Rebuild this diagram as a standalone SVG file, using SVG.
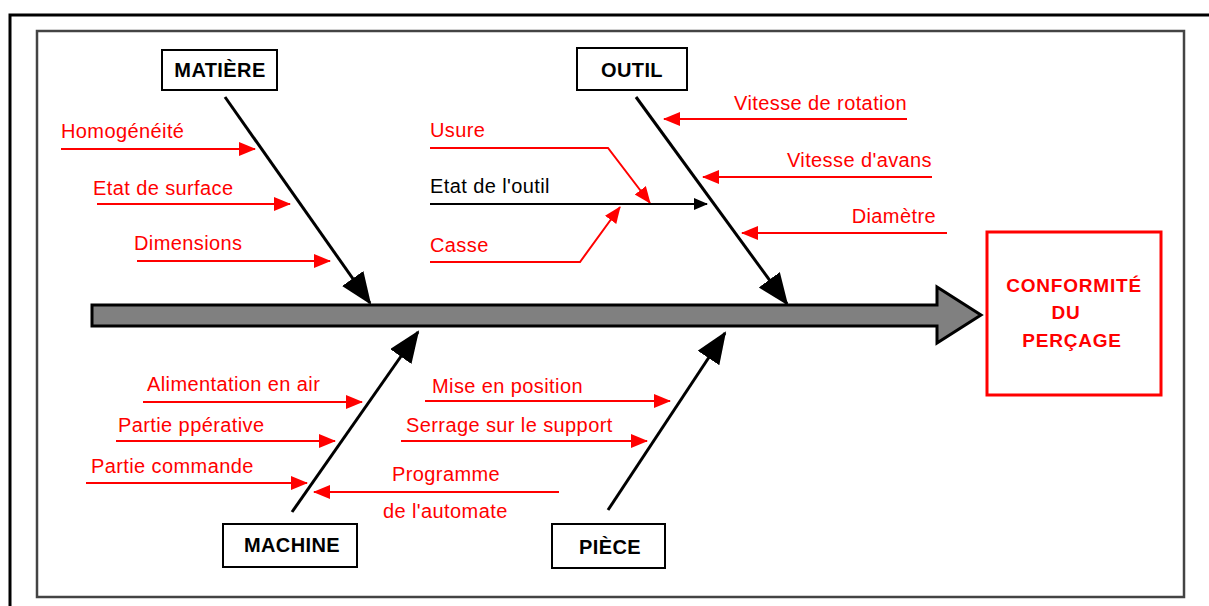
<svg xmlns="http://www.w3.org/2000/svg" width="1209" height="606" viewBox="0 0 1209 606">
<style>
.frame{fill:none;stroke:#000;stroke-width:3}
.inner{fill:none;stroke:#444;stroke-width:2.5}
.box{fill:#fff;stroke:#000;stroke-width:2}
.lbl{font-family:"Liberation Sans",Arial,sans-serif;font-weight:bold;font-size:20px;letter-spacing:0.4px;fill:#000;text-anchor:middle}
.res{font-family:"Liberation Sans",Arial,sans-serif;font-weight:bold;font-size:19px;letter-spacing:0.8px;fill:#f00;text-anchor:middle}
.t{font-family:"Liberation Sans",Arial,sans-serif;font-size:20px;letter-spacing:0.4px;fill:#f00}
.tk{fill:#000}
.end{text-anchor:end}
.bone{fill:none;stroke:#000;stroke-width:3;marker-end:url(#big)}
.red{fill:none;stroke:#f00;stroke-width:2;marker-end:url(#rh)}
.redn{fill:none;stroke:#f00;stroke-width:2}
.blk{fill:none;stroke:#000;stroke-width:2;marker-end:url(#bh)}
</style>
<defs>
<marker id="big" markerUnits="userSpaceOnUse" markerWidth="34" markerHeight="28" refX="30" refY="13" orient="auto"><path d="M0,0 L32,13 L0,26 z" fill="#000"/></marker>
<marker id="rh" markerUnits="userSpaceOnUse" markerWidth="18" markerHeight="16" refX="16" refY="7" orient="auto"><path d="M0,0 L17,7 L0,14 z" fill="#f00"/></marker>
<marker id="bh" markerUnits="userSpaceOnUse" markerWidth="16" markerHeight="14" refX="13" refY="6" orient="auto"><path d="M0,0 L14,6 L0,12 z" fill="#000"/></marker>
</defs>
<rect width="1209" height="606" fill="#fff"/>
<path class="frame" d="M10,606 L10,15 L1209,15"/>
<rect class="inner" x="37" y="31" width="1147" height="566"/>

<g id="connectors">
<polygon id="spine" points="92,305 937,305 937,287 981,315 937,343 937,326 92,326" fill="#808080" stroke="#000" stroke-width="3" stroke-linejoin="miter"/>
<line class="bone" x1="225" y1="97" x2="370" y2="303"/>
<line class="bone" x1="636" y1="97" x2="787" y2="304"/>
<line class="bone" x1="292" y1="512" x2="418" y2="332"/>
<line class="bone" x1="608" y1="510" x2="725" y2="333"/>
<line class="red" x1="61" y1="149" x2="255" y2="149"/>
<line class="red" x1="97" y1="204" x2="290" y2="204"/>
<line class="red" x1="137" y1="261" x2="330" y2="261"/>
<polyline class="red" points="430,148 608,148 650,203"/>
<line class="blk" x1="430" y1="204" x2="707" y2="204"/>
<polyline class="red" points="430,262 580,262 620,207"/>
<line class="red" x1="907" y1="119" x2="664" y2="119"/>
<line class="red" x1="932" y1="177" x2="703" y2="177"/>
<line class="red" x1="947" y1="233" x2="742" y2="233"/>
<line class="red" x1="143" y1="402" x2="362" y2="402"/>
<line class="red" x1="116" y1="441" x2="335" y2="441"/>
<line class="red" x1="86" y1="483" x2="307" y2="483"/>
<line class="red" x1="559" y1="492" x2="314" y2="492"/>
<line class="red" x1="425" y1="401" x2="670" y2="401"/>
<line class="red" x1="401" y1="441" x2="647" y2="441"/>
</g>

<g id="matiere"><rect class="box" x="162" y="50" width="115" height="40"/><text class="lbl" x="220" y="77">MATIÈRE</text></g>
<g id="outil"><rect class="box" x="577" y="48" width="110" height="42"/><text class="lbl" x="632" y="77">OUTIL</text></g>
<g id="machine"><rect class="box" x="223" y="524" width="134" height="43"/><text class="lbl" x="292" y="552">MACHINE</text></g>
<g id="piece"><rect class="box" x="552" y="524" width="113" height="44"/><text class="lbl" x="610" y="554">PIÈCE</text></g>
<g id="resultat"><rect x="987" y="232" width="174" height="163" fill="#fff" stroke="#f00" stroke-width="3"/>
<text class="res" x="1074" y="292">CONFORMITÉ</text>
<text class="res" x="1066" y="319">DU</text>
<text class="res" x="1072" y="347">PERÇAGE</text></g>

<g id="causes">
<text class="t" x="61" y="138">Homogénéité</text>
<text class="t" x="93" y="195">Etat de surface</text>
<text class="t" x="134" y="250">Dimensions</text>
<text class="t" x="430" y="137">Usure</text>
<text class="t tk" x="430" y="193">Etat de l'outil</text>
<text class="t" x="430" y="252">Casse</text>
<text class="t end" x="907" y="110">Vitesse de rotation</text>
<text class="t end" x="932" y="167">Vitesse d'avans</text>
<text class="t end" x="936" y="223">Diamètre</text>
<text class="t" x="147" y="391">Alimentation en air</text>
<text class="t" x="118" y="432">Partie ppérative</text>
<text class="t" x="91" y="473">Partie commande</text>
<text class="t" x="432" y="393">Mise en position</text>
<text class="t" x="406" y="432">Serrage sur le support</text>
<text class="t" x="392" y="481">Programme</text>
<text class="t" x="383" y="518">de l'automate</text>
</g>
</svg>
